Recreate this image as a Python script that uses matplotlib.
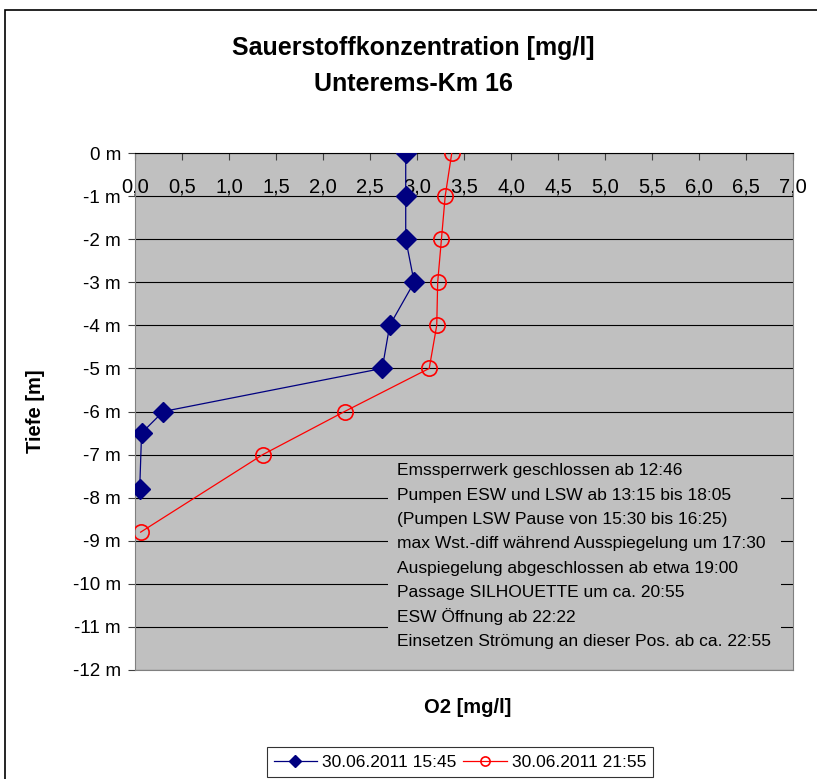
import numpy as np
import matplotlib.pyplot as plt
from matplotlib.patches import Rectangle

plt.rcParams['font.family'] = ['Liberation Sans', 'DejaVu Sans']

# Messprofil 30.06.2011 15:45
tiefe_1 = [0, -1, -2, -3, -4, -5, -6, -6.5, -7.8]
o2_1 = [2.88, 2.88, 2.88, 2.97, 2.71, 2.63, 0.30, 0.07, 0.05]

# Messprofil 30.06.2011 21:55
tiefe_2 = [0, -1, -2, -3, -4, -5, -6, -7, -8.8]
o2_2 = [3.37, 3.30, 3.26, 3.22, 3.21, 3.13, 2.23, 1.36, 0.06]

labels = ['30.06.2011 15:45', '30.06.2011 21:55']

x_ticks = np.arange(0, 7.01, 0.5)
y_ticks = np.arange(0, -12.01, -1)

notes = [
    'Emssperrwerk geschlossen ab 12:46',
    'Pumpen ESW und LSW ab 13:15 bis 18:05',
    '(Pumpen LSW Pause von 15:30 bis 16:25)',
    'max Wst.-diff während Ausspiegelung um 17:30',
    'Auspiegelung abgeschlossen ab etwa 19:00',
    'Passage SILHOUETTE um ca. 20:55',
    'ESW Öffnung ab 22:22',
    'Einsetzen Strömung an dieser Pos. ab ca. 22:55',
]

fig = plt.figure(figsize=(8.17, 7.79), dpi=100)
ax = fig.add_axes([135/817, 1 - 670/779, 658/817, 517/779])
ax.set_facecolor('#C0C0C0')

ax.plot(o2_1, tiefe_1, color='#000080', lw=0.9, marker='D', ms=10,
        mfc='#000080', mec='#000080', label=labels[0], zorder=3)
ax.plot(o2_2, tiefe_2, color='#FF0000', lw=0.9, marker='o', ms=11,
        mfc='none', mec='#FF0000', mew=1.2, label=labels[1], zorder=3)

ax.set_xlim(0, 7)
ax.set_ylim(-12, 0)

# X-Achse oben, Beschriftung innerhalb des Diagramms
ax.xaxis.tick_top()
ax.set_xticks(x_ticks)
ax.set_xticklabels([f'{v:.1f}'.replace('.', ',') for v in x_ticks])
ax.tick_params(axis='x', direction='in', length=5, pad=-31, labelsize=14.5,
               color='#404040')

ax.set_yticks(y_ticks)
ax.set_yticklabels([f'{int(v)} m' for v in y_ticks])
ax.tick_params(axis='y', direction='out', length=5, pad=5, labelsize=13.5,
               color='#404040')

ax.set_axisbelow(True)
ax.grid(axis='y', color='black', lw=0.8)
ax.grid(axis='x', visible=False)
for s in ['left', 'right', 'bottom']:
    ax.spines[s].set_color('#808080')
ax.spines['top'].set_color('black')

# Textfeld mit Ereignissen
ax.add_patch(Rectangle((2.69, -11.65), 4.18, 4.52, facecolor='#C0C0C0',
                       edgecolor='none', zorder=1))
for i, line in enumerate(notes):
    ax.text(397/817, 1 - (471 + i*24.3)/779, line, transform=fig.transFigure,
            fontsize=12.5, va='center', ha='left', zorder=2)

ax.set_ylabel('Tiefe [m]', fontsize=14.5, fontweight='bold')
ax.yaxis.set_label_coords(-0.137, 0.5)
ax.text(0.505, -0.0716, 'O2 [mg/l]', transform=ax.transAxes, fontsize=14.5,
        fontweight='bold', ha='center', va='center')

fig.text(413/817, 1 - 48/779, 'Sauerstoffkonzentration [mg/l]', fontsize=18,
         fontweight='bold', ha='center', va='center')
fig.text(413/817, 1 - 84/779, 'Unterems-Km 16', fontsize=18,
         fontweight='bold', ha='center', va='center')

leg = fig.legend(loc='center', bbox_to_anchor=(460/817, 1 - 762/779), ncol=2,
                 fontsize=12.5, frameon=True, fancybox=False, edgecolor='black',
                 markerscale=0.6, handlelength=2.5, columnspacing=0.4,
                 borderpad=0.4, borderaxespad=0.3, handletextpad=0.3)
leg.get_frame().set_linewidth(0.8)

# Rahmen um das gesamte Diagramm
fig.patches.append(Rectangle((5/817, -0.1), 1.1, 1 - 10/779 + 0.1,
                             transform=fig.transFigure, fill=False,
                             edgecolor='black', lw=1.2))

fig.savefig('out.png', dpi=100)
